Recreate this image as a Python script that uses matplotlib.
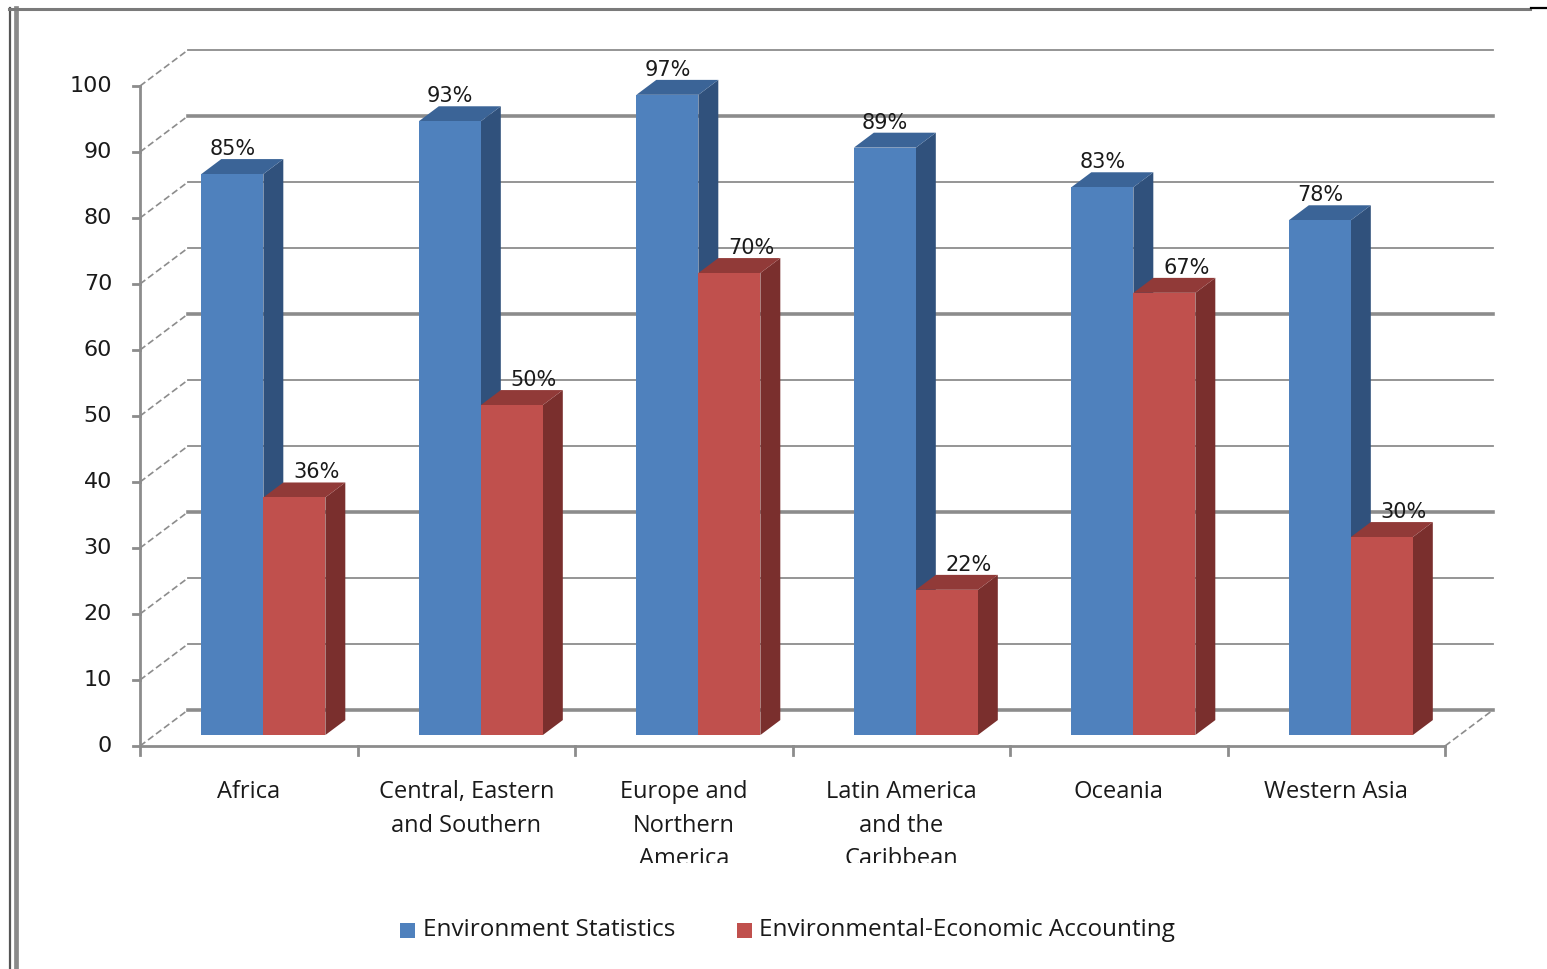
import matplotlib
matplotlib.use("Agg")
import matplotlib.pyplot as plt
from matplotlib.patches import Polygon, Rectangle
from matplotlib.lines import Line2D

# ---- data ----
regions = ["Africa", "Central, Eastern\nand Southern", "Europe and\nNorthern\nAmerica",
           "Latin America\nand the\nCaribbean", "Oceania", "Western Asia"]
env_stats = [85, 93, 97, 89, 83, 78]
env_econ = [36, 50, 70, 22, 67, 30]
series_names = ["Environment Statistics", "Environmental-Economic Accounting"]
y_ticks = list(range(0, 101, 10))

# ---- style ----
W, H = 1547, 969
BLUE_FRONT, BLUE_TOP, BLUE_SIDE = "#4F81BD", "#3B6497", "#30517C"
RED_FRONT, RED_TOP, RED_SIDE = "#C0504D", "#913A38", "#7A2F2D"
GRID = "#8C8C8C"
NUM_FONT = "DejaVu Sans"
TXT_FONT = "Open Sans"

fig = plt.figure(figsize=(W / 100, H / 100), dpi=100)
fig.patch.set_facecolor("white")

# front plane of the plot box, in pixels
X0, X1 = 140, 1445
Y0, Y100 = 746, 86
ax = fig.add_axes([X0 / W, (H - Y0) / H, (X1 - X0) / W, (Y0 - Y100) / H])
ax.set_xlim(0, len(regions))
ax.set_ylim(0, 100)
ax.axis("off")

px_x = (X1 - X0) / len(regions)      # pixels per category
px_y = (Y0 - Y100) / 100.0           # pixels per unit
DX = 48 / px_x                       # full depth shift (x)
DY = 36 / px_y                       # full depth shift (y)
F0, F1 = 0.305, 0.72                 # bar front / back depth fractions
BW = 62 / px_x                       # bar width

# back wall gridlines
heavy = {0, 30, 60, 90}
for v in y_ticks:
    ax.add_line(Line2D([DX, len(regions) + DX], [v + DY, v + DY], color=GRID,
                       lw=2.6 if v in heavy else 1.3, zorder=1, clip_on=False))
    # side wall diagonals
    ax.add_line(Line2D([0, DX], [v, v + DY], color=GRID, lw=1.2, ls=(0, (4, 2)),
                       zorder=1, clip_on=False))
    # tick marks
    ax.add_line(Line2D([-7 / px_x, 0], [v, v], color=GRID, lw=2.0, zorder=2, clip_on=False))
    ax.text(-28 / px_x, v, str(v), ha="right", va="center", fontsize=16,
            family=NUM_FONT, color="#1a1a1a")

# floor right edge
ax.add_line(Line2D([len(regions), len(regions) + DX], [0, DY], color=GRID, lw=1.2,
                   ls=(0, (4, 2)), zorder=1, clip_on=False))
# front axes
ax.add_line(Line2D([0, len(regions)], [0, 0], color=GRID, lw=2.0, zorder=2, clip_on=False))
ax.add_line(Line2D([0, 0], [0, 100], color=GRID, lw=2.0, zorder=2, clip_on=False))
for i in range(len(regions) + 1):
    ax.add_line(Line2D([i, i], [0, -9 / px_y], color=GRID, lw=2.0, zorder=2, clip_on=False))

ox0, oy0 = F0 * DX, F0 * DY
ox1, oy1 = F1 * DX, F1 * DY


def draw_bar(xl, v, front, top, side, z):
    xr = xl + BW
    ax.add_patch(Polygon([(xr + ox0, oy0), (xr + ox1, oy1), (xr + ox1, v + oy1), (xr + ox0, v + oy0)],
                         closed=True, facecolor=side, edgecolor="none", zorder=z, clip_on=False))
    ax.add_patch(Polygon([(xl + ox0, v + oy0), (xr + ox0, v + oy0), (xr + ox1, v + oy1), (xl + ox1, v + oy1)],
                         closed=True, facecolor=top, edgecolor="none", zorder=z, clip_on=False))
    ax.bar(xl + ox0, v, width=BW, bottom=oy0, align="edge", color=front,
           edgecolor="none", zorder=z + 0.5, clip_on=False)


# category label area ends here (pixels from the top)
label_floor = 863
for i, (a, b) in enumerate(zip(env_stats, env_econ)):
    c = i + 0.5
    z = 10 + i * 10
    draw_bar(c - BW, a, BLUE_FRONT, BLUE_TOP, BLUE_SIDE, z)
    draw_bar(c, b, RED_FRONT, RED_TOP, RED_SIDE, z + 2)
    ax.text(c - BW / 2 + ox0, a + oy1 + 4 / px_y, f"{a}%", ha="center", va="baseline",
            fontsize=15, family=NUM_FONT, color="#1a1a1a", zorder=200)
    ax.text(c + BW / 2 + ox0 + 22 / px_x, b + oy1 + 4 / px_y, f"{b}%", ha="center",
            va="baseline", fontsize=15, family=NUM_FONT, color="#1a1a1a", zorder=200)
    t = ax.text(c, -34 / px_y, regions[i], ha="center", va="top", fontsize=17,
                family=TXT_FONT, color="#1a1a1a", linespacing=1.53, clip_on=False)
    t.set_clip_path(Rectangle((0, H - label_floor), W, label_floor, transform=None))
    t.set_clip_on(True)

# legend
def fx(p):
    return p / W


def fy(p):
    return (H - p) / H


fig.patches.append(Rectangle((fx(400), fy(938)), 15 / W, 15 / H, transform=fig.transFigure,
                             facecolor=BLUE_FRONT, edgecolor="none"))
fig.text(fx(423), fy(930), series_names[0], ha="left", va="center", fontsize=17.5,
         family=TXT_FONT, color="#1a1a1a")
fig.patches.append(Rectangle((fx(737), fy(938)), 15 / W, 15 / H, transform=fig.transFigure,
                             facecolor=RED_FRONT, edgecolor="none"))
fig.text(fx(759), fy(930), series_names[1], ha="left", va="center", fontsize=17.5,
         family=TXT_FONT, color="#1a1a1a")

# chart frame
fig.add_artist(Line2D([fx(10), fx(10)], [fy(8), fy(969)], transform=fig.transFigure,
                      color="#555555", lw=1.6))
fig.add_artist(Line2D([fx(16), fx(16)], [fy(8), fy(969)], transform=fig.transFigure,
                      color="#8a8a8a", lw=3.4))
fig.add_artist(Line2D([fx(9), fx(1530)], [fy(9), fy(9)], transform=fig.transFigure,
                      color="#7a7a7a", lw=2.2))
fig.add_artist(Line2D([fx(1531), fx(1547)], [fy(8), fy(8)], transform=fig.transFigure,
                      color="#000000", lw=1.6))

fig.savefig("out.png", dpi=100, facecolor="white")
